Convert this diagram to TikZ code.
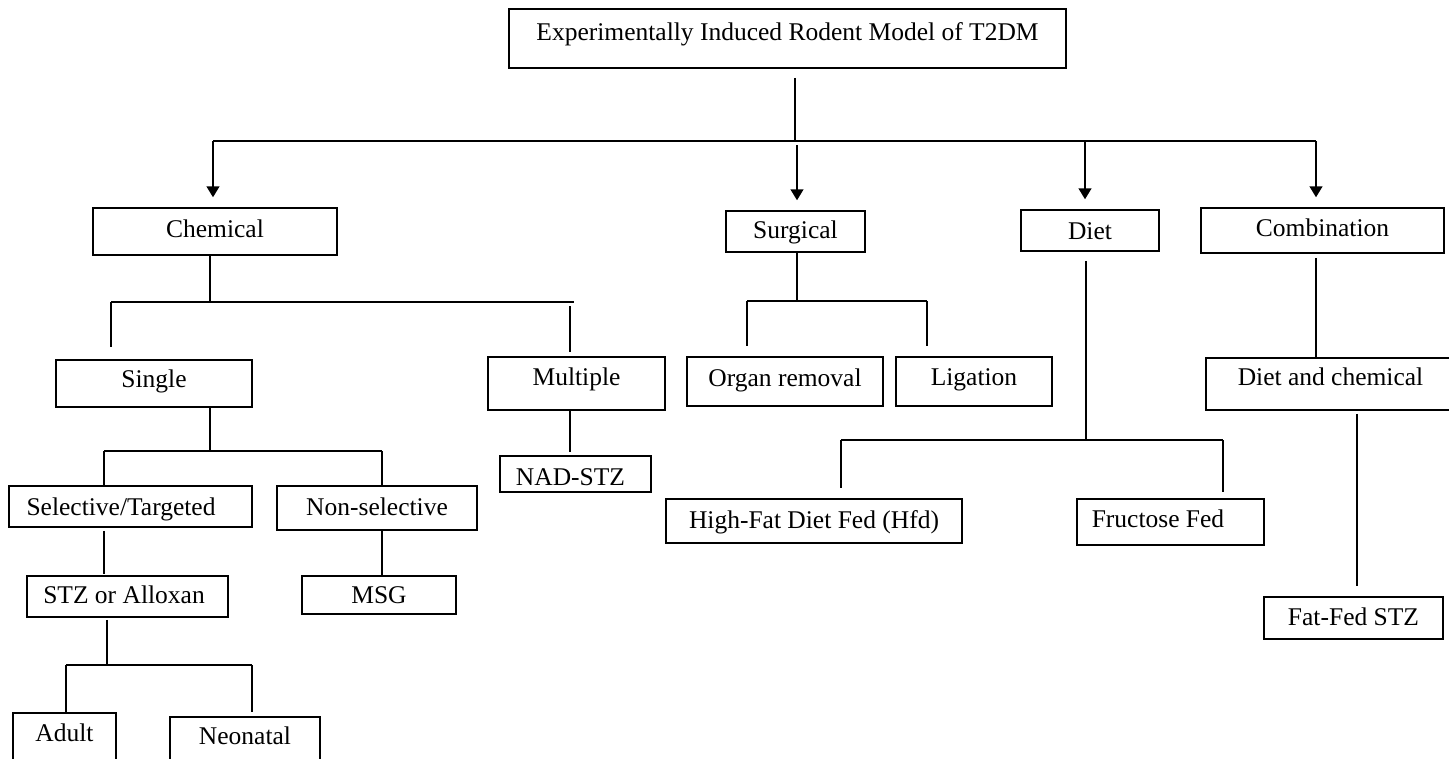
\documentclass[tikz,border=0pt]{standalone}
\usepackage{fontspec}
\setmainfont{Liberation Serif}
\usetikzlibrary{arrows.meta}
\begin{document}
\begin{tikzpicture}[x=1pt,y=-1pt,
  box/.style={draw, line width=1.5pt, rectangle, inner sep=0pt, text depth=0pt,
    font=\fontsize{25.5}{30}\selectfont},
  link/.style={line width=1.5pt},
  arr/.style={link, -{Triangle[width=13pt,length=11pt]}, shorten >=10pt},
]
\useasboundingbox (0,0) rectangle (1449,758);

% boxes
\node[box, minimum width=557pt, minimum height=59pt, text height=4.4pt] (top) at (787.5,38.5) {Experimentally Induced Rodent Model of T2DM};
\node[box, minimum width=244pt, minimum height=47pt, text height=12.4pt] (chem) at (215,231.5) {Chemical};
\node[box, minimum width=139pt, minimum height=41pt, text height=14.4pt] (surg) at (795.5,231.5) {Surgical};
\node[box, minimum width=138pt, minimum height=41pt, text height=18.4pt] (diet) at (1090,230.5) {Diet};
\node[box, minimum width=243pt, minimum height=45pt, text height=12.4pt] (comb) at (1322.5,230.5) {Combination};
\node[box, minimum width=196pt, minimum height=47pt, text height=8.4pt] (single) at (154,383.5) {Single};
\node[box, minimum width=177pt, minimum height=53pt, text height=4.4pt] (mult) at (576.5,383.5) {Multiple};
\node[box, minimum width=196pt, minimum height=49pt, text height=10.4pt] (organ) at (785,381.5) {Organ removal};
\node[box, minimum width=156pt, minimum height=49pt, text height=8.4pt] (lig) at (974,381.5) {Ligation};
\node[box, minimum width=249pt, minimum height=52pt, text height=3.4pt] (dchem) at (1330.5,384) {Diet and chemical};
\node[box, minimum width=151pt, minimum height=36pt, text height=23.4pt] (nad) at (575.5,474) {\hspace*{-10pt}NAD-STZ};
\node[box, minimum width=243pt, minimum height=41pt, text height=17.4pt] (sel) at (130.5,506.5) {\hspace*{-19pt}Selective/Targeted};
\node[box, minimum width=200pt, minimum height=44pt, text height=15.4pt] (nonsel) at (377,508) {Non-selective};
\node[box, minimum width=296pt, minimum height=44pt, text height=15.4pt] (hfd) at (814,521) {High-Fat Diet Fed (Hfd)};
\node[box, minimum width=187pt, minimum height=46pt, text height=11.4pt] (fruc) at (1170.5,522) {\hspace*{-25pt}Fructose Fed};
\node[box, minimum width=201pt, minimum height=41pt, text height=14.4pt] (stz) at (127.5,596.5) {\hspace*{-7pt}STZ or Alloxan};
\node[box, minimum width=154pt, minimum height=38pt, text height=17.4pt] (msg) at (379,595) {MSG};
\node[box, minimum width=179pt, minimum height=42pt, text height=15.4pt] (fatfed) at (1353.5,618) {Fat-Fed STZ};
\node[box, minimum width=103pt, minimum height=70pt, text height=0pt, text depth=12.6pt] (adult) at (64.5,748) {Adult};
\node[box, minimum width=150pt, minimum height=66pt, text height=0pt, text depth=10.6pt] (neo) at (245,750) {Neonatal};

% top level
\coordinate (j0) at (795,141);
\coordinate (j1) at (213,141);
\coordinate (j2) at (797,141);
\coordinate (j3) at (1085,141);
\coordinate (j4) at (1316,141);
\draw[link, shorten <=9pt] (j0 |- top.south) -- (j0);
\draw[link] (j1) -- (j4);
\draw[arr] (j1) -- (j1 |- chem.north);
\draw[arr, shorten <=4pt] (j2) -- (j2 |- surg.north);
\draw[arr] (j3) -- (j3 |- diet.north);
\draw[arr] (j4) -- (j4 |- comb.north);

% chemical
\coordinate (c0) at (210,302);
\coordinate (c1) at (111,302);
\coordinate (c2) at (574,302);
\coordinate (c3) at (570,306);
\draw[link] (c0 |- chem.south) -- (c0);
\draw[link] (c1) -- (c2);
\draw[link, shorten >=12pt] (c1) -- (c1 |- single.north);
\draw[link, shorten >=4pt] (c3) -- (c3 |- mult.north);
\draw[link, shorten >=3pt] (c3 |- mult.south) -- (c3 |- nad.north);

% single
\coordinate (s0) at (210,451);
\coordinate (s1) at (104,451);
\coordinate (s2) at (382,451);
\draw[link] (s0 |- single.south) -- (s0);
\draw[link] (s1) -- (s2);
\draw[link] (s1) -- (s1 |- sel.north);
\draw[link] (s2) -- (s2 |- nonsel.north);
\draw[link, shorten <=3pt, shorten >=1pt] (s1 |- sel.south) -- (s1 |- stz.north);
\draw[link] (s2 |- nonsel.south) -- (s2 |- msg.north);
\coordinate (t0) at (107,665);
\coordinate (t1) at (66,665);
\coordinate (t2) at (252,665);
\draw[link, shorten <=2pt] (t0 |- stz.south) -- (t0);
\draw[link] (t1) -- (t2);
\draw[link] (t1) -- (t1 |- adult.north);
\draw[link, shorten >=4pt] (t2) -- (t2 |- neo.north);

% surgical
\coordinate (u0) at (797,301);
\coordinate (u1) at (747,301);
\coordinate (u2) at (927,301);
\draw[link] (u0 |- surg.south) -- (u0);
\draw[link] (u1) -- (u2);
\draw[link, shorten >=10pt] (u1) -- (u1 |- organ.north);
\draw[link, shorten >=10pt] (u2) -- (u2 |- lig.north);

% diet
\coordinate (d0) at (1086,440);
\coordinate (d1) at (841,440);
\coordinate (d2) at (1223,440);
\draw[link, shorten <=9pt] (d0 |- diet.south) -- (d0);
\draw[link] (d1) -- (d2);
\draw[link, shorten >=10pt] (d1) -- (d1 |- hfd.north);
\draw[link, shorten >=6pt] (d2) -- (d2 |- fruc.north);

% combination
\coordinate (k1) at (1357,413);
\draw[link, shorten <=4pt] (j4 |- comb.south) -- (j4 |- dchem.north);
\draw[link, shorten <=3pt, shorten >=10pt] (k1 |- dchem.south) -- (k1 |- fatfed.north);
\end{tikzpicture}
\end{document}
